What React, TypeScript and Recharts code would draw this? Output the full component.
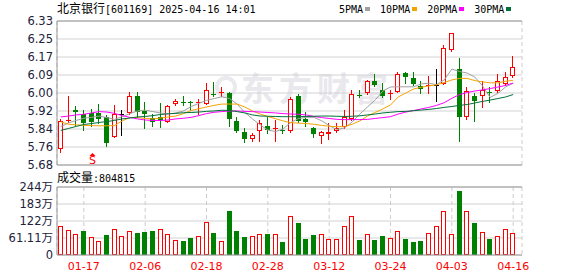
import React from "react";
import {
  ComposedChart,
  Bar,
  Line,
  XAxis,
  YAxis,
  CartesianGrid,
  ReferenceLine,
  ReferenceDot,
} from "recharts";

// ---------- data ----------
const dates = [
  "01-14","01-15","01-16","01-17","01-20","01-21","01-22","01-23","01-24","01-27",
  "02-05","02-06","02-07","02-10","02-11","02-12","02-13","02-14","02-17","02-18",
  "02-19","02-20","02-21","02-24","02-25","02-26","02-27","02-28","03-03","03-04",
  "03-05","03-06","03-07","03-10","03-11","03-12","03-13","03-14","03-17","03-18",
  "03-19","03-20","03-21","03-24","03-25","03-26","03-27","03-28","03-31","04-01",
  "04-02","04-03","04-07","04-08","04-09","04-10","04-11","04-14","04-15","04-16",
];

const opens = [
  5.752,5.877,5.93,5.909,5.913,5.913,5.898,5.808,5.91,5.913,
  5.991,5.925,5.89,5.895,5.876,5.954,5.965,5.966,5.958,5.954,
  6.0,6.005,6.004,5.879,5.83,5.797,5.833,5.856,5.843,5.84,
  5.833,5.991,5.888,5.846,5.81,5.82,5.833,5.85,5.888,5.997,
  6.004,6.059,6.018,6.0,6.011,6.094,6.074,6.038,6.037,6.043,
  6.044,6.199,6.112,5.898,5.99,5.993,6.01,6.014,6.044,6.083,
];
const highs = [
  5.886,5.99,5.945,5.928,5.932,5.955,5.906,5.95,5.928,6.01,
  6.01,5.963,5.91,5.96,5.95,5.98,5.99,5.97,5.978,6.05,
  6.055,6.03,6.01,5.898,5.845,5.825,5.883,5.898,5.883,5.86,
  5.988,5.999,5.92,5.853,5.835,5.868,5.87,5.928,6.018,6.018,
  6.064,6.089,6.05,6.018,6.1,6.1,6.1,6.059,6.082,6.113,
  6.222,6.277,6.162,6.033,6.003,6.059,6.03,6.09,6.1,6.172,
];
const lows = [
  5.738,5.872,5.86,5.84,5.855,5.87,5.767,5.805,5.815,5.91,
  5.898,5.845,5.855,5.853,5.874,5.95,5.95,5.93,5.91,5.954,
  5.992,5.99,5.857,5.827,5.785,5.788,5.79,5.823,5.79,5.823,
  5.83,5.875,5.857,5.808,5.778,5.797,5.83,5.848,5.883,5.988,
  5.999,6.036,5.986,5.98,6.008,6.05,6.041,6.004,6.004,5.97,
  6.044,6.196,5.79,5.888,5.88,5.94,5.963,6.011,6.041,6.079,
];
const closes = [
  5.879,5.885,5.918,5.871,5.875,5.888,5.778,5.909,5.91,5.991,
  5.92,5.912,5.875,5.885,5.945,5.97,5.96,5.958,5.964,6.018,
  5.995,6.01,5.887,5.834,5.796,5.815,5.871,5.838,5.846,5.836,
  5.977,5.88,5.873,5.818,5.828,5.83,5.845,5.895,5.999,5.993,
  6.059,6.041,5.993,6.004,6.089,6.076,6.044,6.023,6.041,6.043,
  6.21,6.274,5.898,6.015,5.969,6.018,6.003,6.059,6.079,6.121,
];
// volume in 万
const volumes = [
  103.8,89.5,75.2,85.9,64.4,50.1,71.6,93.1,68.0,85.9,
  78.7,82.3,85.9,93.1,75.2,53.7,50.1,62.0,68.0,117.0,
  78.7,50.1,157.5,85.9,64.4,68.0,75.2,75.2,75.2,46.5,
  139.6,114.5,57.3,71.6,75.2,57.3,57.3,103.8,139.6,53.7,
  75.2,53.7,68.0,60.8,85.9,57.3,46.5,50.1,78.7,103.8,
  157.5,75.2,229.0,157.5,114.5,82.3,57.3,68.0,93.1,80.48,
];
const ma5 = [
  5.853,5.870,5.881,5.891,5.895,5.901,5.894,5.886,5.898,5.912,
  5.924,5.928,5.921,5.915,5.910,5.915,5.924,5.944,5.958,5.972,
  5.980,5.988,5.980,5.955,5.917,5.888,5.861,5.838,5.831,5.843,
  5.872,5.890,5.895,5.895,5.880,5.858,5.840,5.847,5.874,5.910,
  5.942,5.973,6.014,6.032,6.033,6.033,6.033,6.046,6.049,6.043,
  6.064,6.113,6.102,6.095,6.077,6.037,5.985,6.003,6.032,6.049,
];
const ma10 = [
  5.875,5.864,5.861,5.859,5.858,5.857,5.857,5.858,5.879,5.894,
  5.894,5.890,5.888,5.892,5.897,5.901,5.912,5.926,5.934,5.942,
  5.949,5.955,5.955,5.955,5.942,5.924,5.910,5.899,5.889,5.879,
  5.871,5.869,5.867,5.864,5.859,5.855,5.853,5.853,5.864,5.879,
  5.901,5.917,5.933,5.951,5.987,6.005,6.023,6.031,6.037,6.042,
  6.052,6.064,6.071,6.071,6.061,6.055,6.051,6.051,6.058,6.062,
];
const ma20 = [
  5.897,5.901,5.906,5.909,5.915,5.921,5.919,5.913,5.903,5.895,
  5.888,5.883,5.881,5.881,5.883,5.888,5.891,5.895,5.903,5.912,
  5.918,5.921,5.924,5.924,5.922,5.921,5.919,5.917,5.915,5.912,
  5.910,5.909,5.906,5.899,5.894,5.890,5.886,5.885,5.885,5.885,
  5.886,5.890,5.894,5.898,5.910,5.919,5.926,5.933,5.940,5.949,
  5.961,5.981,5.998,6.007,6.014,6.019,6.025,6.032,6.039,6.050,
];
const ma30 = [
  5.836,5.845,5.854,5.863,5.867,5.872,5.876,5.881,5.888,5.892,
  5.897,5.899,5.903,5.908,5.911,5.913,5.916,5.917,5.919,5.922,
  5.924,5.927,5.926,5.921,5.915,5.906,5.901,5.900,5.899,5.898,
  5.898,5.898,5.899,5.900,5.901,5.901,5.900,5.899,5.900,5.902,
  5.906,5.910,5.915,5.918,5.921,5.922,5.925,5.928,5.931,5.935,
  5.940,5.944,5.949,5.953,5.960,5.967,5.973,5.980,5.987,5.998,
];

const xTicks = ["01-17","02-06","02-18","02-28","03-12","03-24","04-03","04-16"];
const priceTicks = [5.68, 5.76125, 5.8425, 5.92375, 6.005, 6.08625, 6.1675, 6.24875, 6.33];
const priceLabels = ["5.68","5.76","5.84","5.92","6.00","6.09","6.17","6.25","6.33"];
const volTicks = [0, 61.11, 122.22, 183.33, 244.44];
const volLabels = ["0","61.11万","122万","183万","244万"];

const maKeys = ["ma5","ma10","ma20","ma30"];
const maNames = ["5PMA","10PMA","20PMA","30PMA"];
const maColors = ["#a0a0a0","#f5a300","#ff00ff","#00703a"];

const titleName = "北京银行";
const titleRest = "[601169] 2025-04-16 14:01";
const volTitle = "成交量";
const volValue = ":804815";
const watermark = "东方财富";
const signal = { date: "01-20", price: 5.68, text: "S" };

const UP = "#ff0000";
const DOWN = "#008000";
const FLAT = "#000000";
const AXIS_TEXT = "#22223a";

const data = dates.map((d, i) => ({
  date: d,
  open: opens[i],
  high: highs[i],
  low: lows[i],
  close: closes[i],
  prevClose: i > 0 ? closes[i - 1] : opens[i],
  vol: volumes[i],
  ma5: ma5[i],
  ma10: ma10[i],
  ma20: ma20[i],
  ma30: ma30[i],
}));

// ---------- shapes ----------
function Candle(props: any) {
  const { x, y, width, height, payload } = props;
  if (!payload || x == null || y == null) return null;
  const { open, close, high, low } = payload;
  const top = Math.min(y, y + height);
  const h = Math.abs(height);
  const span = high - low;
  const py = (p: number) => (span > 0 ? top + ((high - p) / span) * h : top);
  const color = close > open ? UP : close < open ? DOWN : FLAT;
  const left = Math.round(x + width / 2 - 2.5);
  const cx = left + 2.5;
  const yHi = Math.round(py(high));
  const yLo = Math.round(py(low));
  const bTop = Math.round(py(Math.max(open, close)));
  const bBot = Math.round(py(Math.min(open, close)));
  let body: React.ReactNode;
  if (bBot - bTop < 2) {
    body = <line x1={left} x2={left + 5} y1={bTop + 0.5} y2={bTop + 0.5} stroke={color} strokeWidth={1} />;
  } else if (close > open) {
    body = <rect x={left + 0.5} y={bTop + 0.5} width={4} height={bBot - bTop - 1} fill="#ffffff" stroke={color} strokeWidth={1} />;
  } else {
    body = <rect x={left} y={bTop} width={5} height={bBot - bTop} fill={color} />;
  }
  return (
    <g>
      <line x1={cx} x2={cx} y1={yHi} y2={yLo + 1} stroke={color} strokeWidth={1} />
      {body}
    </g>
  );
}

function VolBar(props: any) {
  const { x, y, width, height, payload } = props;
  if (!payload || x == null || y == null) return null;
  const up = payload.close >= payload.prevClose;
  const left = Math.round(x + width / 2 - 2.5);
  const top = Math.round(Math.min(y, y + height));
  const bot = Math.round(Math.max(y, y + height));
  if (up) {
    return <rect x={left + 0.5} y={top + 0.5} width={4} height={Math.max(0, bot - top - 1)} fill="#ffffff" stroke={UP} strokeWidth={1} />;
  }
  return <rect x={left} y={top} width={5} height={bot - top} fill={DOWN} />;
}

function SignalMark(props: any) {
  const { cx, cy } = props;
  if (cx == null || cy == null) return null;
  const x = Math.round(cx) + 0.5;
  return (
    <g>
      <path d={`M${x} ${cy - 12} L${x + 3} ${cy - 9} L${x - 3} ${cy - 9} Z`} fill={UP} />
      <text x={x} y={cy - 1} textAnchor="middle" fontSize={11} fontFamily="DejaVu Sans" fill={UP}>
        {signal.text}
      </text>
    </g>
  );
}

const yTickStyle = { fill: AXIS_TEXT, fontSize: 11.5, fontFamily: "DejaVu Sans, Noto Sans CJK SC" };

function Overlay() {
  let lx = 339;
  const items = maNames.map((n, i) => {
    const w = n.length * 6.02;
    const item = (
      <g key={n}>
        <text x={lx} y={13} fontSize={10} fontFamily="DejaVu Sans Mono" fill="#000">{n}</text>
        <rect x={Math.round(lx + w + 2)} y={7} width={5} height={4} fill={maColors[i]} />
      </g>
    );
    lx += w + 2 + 5 + 10;
    return item;
  });
  return (
    <svg width={578} height={276} style={{ position: "absolute", left: 0, top: 0 }}>
      <circle cx={226} cy={87} r={9} fill="none" stroke="#e9e9ee" strokeWidth={4} />
      <text x={241} y={101} fontSize={33} fontWeight={700} letterSpacing={5} fontFamily="Noto Sans CJK SC" fill="#e8e8ed">
        {watermark}
      </text>
      <text x={57} y={13} fill="#000">
        <tspan fontFamily="Noto Sans CJK SC" fontSize={12}>{titleName}</tspan>
        <tspan fontFamily="DejaVu Sans Mono" fontSize={10}>{titleRest}</tspan>
      </text>
      {items}
      <text x={57} y={182} fill="#000">
        <tspan fontFamily="Noto Sans CJK SC" fontSize={12}>{volTitle}</tspan>
        <tspan fontFamily="DejaVu Sans Mono" fontSize={10}>{volValue}</tspan>
      </text>
    </svg>
  );
}

export default function App() {
  return (
    <div style={{ position: "absolute", left: 0, top: 0, width: 578, height: 276, background: "#fff" }}>
      <Overlay />
      <div style={{ position: "absolute", left: 0, top: 0 }}>
        <ComposedChart width={578} height={276} data={data} margin={{ top: 21, right: 56, bottom: 110, left: 0 }}>
          <CartesianGrid horizontal vertical={false} stroke="#d2d2d2" />
          <CartesianGrid horizontal={false} vertical stroke="#cccccc" strokeDasharray="4 3" />
          <XAxis
            dataKey="date"
            ticks={xTicks}
            interval={0}
            tick={false}
            tickLine={false}
            axisLine={{ stroke: "#999" }}
            height={1}
            padding={{ left: 0, right: 5 }}
          />
          <YAxis
            type="number"
            domain={[5.68, 6.33]}
            ticks={priceTicks}
            interval={0}
            allowDataOverflow
            tickFormatter={(v: number) => priceLabels[priceTicks.indexOf(v)] ?? String(v)}
            width={57}
            tickLine={false}
            tickSize={0}
            tickMargin={4}
            axisLine={{ stroke: "#999" }}
            tick={yTickStyle}
          />
          <YAxis
            yAxisId="r"
            orientation="right"
            type="number"
            domain={[5.68, 6.33]}
            width={0}
            tick={false}
            tickLine={false}
            axisLine={{ stroke: "#999" }}
          />
          <ReferenceLine y={6.33} stroke="#999" />
          <Bar
            dataKey={(d: any) => [d.low, d.high]}
            barSize={5}
            shape={(p: any) => <Candle {...p} />}
            isAnimationActive={false}
          />
          {maKeys.map((k, i) => (
            <Line
              key={k}
              type="linear"
              dataKey={k}
              stroke={maColors[i]}
              strokeWidth={1}
              dot={false}
              activeDot={false}
              isAnimationActive={false}
            />
          ))}
          <ReferenceDot x={signal.date} y={signal.price} r={0} ifOverflow="visible" shape={(p: any) => <SignalMark {...p} />} />
        </ComposedChart>
      </div>
      <div style={{ position: "absolute", left: 0, top: 0 }}>
        <ComposedChart width={578} height={276} data={data} margin={{ top: 187, right: 56, bottom: 0, left: 0 }}>
          <CartesianGrid horizontal vertical={false} stroke="#d2d2d2" />
          <CartesianGrid horizontal={false} vertical stroke="#cccccc" strokeDasharray="4 3" />
          <XAxis
            dataKey="date"
            ticks={xTicks}
            interval={0}
            tickLine={false}
            tickSize={0}
            tickMargin={7}
            axisLine={{ stroke: "#999" }}
            height={21}
            padding={{ left: 0, right: 5 }}
            tick={{ fill: "#ff0000", fontSize: 11, fontFamily: "DejaVu Sans" }}
          />
          <YAxis
            type="number"
            domain={[0, 244.44]}
            ticks={volTicks}
            interval={0}
            allowDataOverflow
            tickFormatter={(v: number) => volLabels[volTicks.indexOf(v)] ?? String(v)}
            width={57}
            tickLine={false}
            tickSize={0}
            tickMargin={4}
            axisLine={{ stroke: "#999" }}
            tick={yTickStyle}
          />
          <YAxis
            yAxisId="r"
            orientation="right"
            type="number"
            domain={[0, 244.44]}
            width={0}
            tick={false}
            tickLine={false}
            axisLine={{ stroke: "#999" }}
          />
          <ReferenceLine y={244.44} stroke="#999" />
          <Bar dataKey="vol" barSize={5} shape={(p: any) => <VolBar {...p} />} isAnimationActive={false} />
        </ComposedChart>
      </div>
    </div>
  );
}
